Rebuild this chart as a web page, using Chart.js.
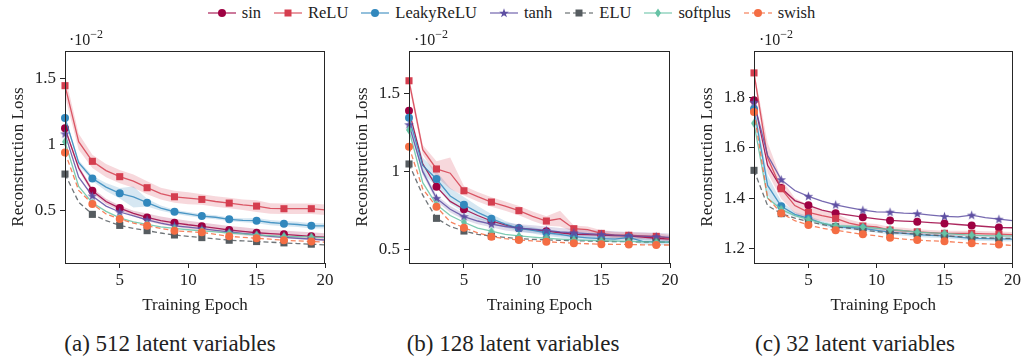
<!DOCTYPE html>
<html><head><meta charset="utf-8">
<script src="https://cdn.jsdelivr.net/npm/chart.js@4"></script>
<style>
body{margin:0;width:1023px;height:357px;background:#fff;position:relative;overflow:hidden;font-family:"Liberation Serif","DejaVu Serif",serif;color:#222}
.cv{position:absolute;top:0}
#legend{position:absolute;top:2px;left:0;width:1023px;height:22px;display:flex;justify-content:center;align-items:center;font-size:16.5px}
.li{display:flex;align-items:center;margin:0 6.5px}
.li span{margin-left:6px}
.mult{position:absolute;top:26px;font-size:16px;line-height:18px}
.mult sup{font-size:12px;position:relative;top:-1px}
.cap{position:absolute;top:331px;font-size:23px;width:340px;text-align:center;line-height:26px}
</style></head>
<body>
<div id="legend"></div>
<canvas id="c1" class="cv" width="340" height="320" style="left:0px"></canvas>
<canvas id="c2" class="cv" width="340" height="320" style="left:344px"></canvas>
<canvas id="c3" class="cv" width="334" height="320" style="left:689px"></canvas>
<div class="mult" style="left:69px">·10<sup>−2</sup></div>
<div class="mult" style="left:414px">·10<sup>−2</sup></div>
<div class="mult" style="left:759px">·10<sup>−2</sup></div>
<div class="cap" style="left:0px">(a) 512 latent variables</div>
<div class="cap" style="left:343px">(b) 128 latent variables</div>
<div class="cap" style="left:685px">(c) 32 latent variables</div>
<script>
// ---------- data (values are ×10^-2) ----------
const epochs = [1,2,3,4,5,6,7,8,9,10,11,12,13,14,15,16,17,18,19,20];
const xTicks = [5,10,15,20];
const yTicks512 = [0.5,1,1.5];
const yTicks128 = [0.5,1,1.5];
const yTicks32 = [1.2,1.4,1.6,1.8];
const seriesNames = ['sin','ReLU','LeakyReLU','tanh','ELU','softplus','swish'];
const xTitle = 'Training Epoch';
const yTitle = 'Reconstruction Loss';

// 512 latent variables
const sin512      = [1.122,0.82,0.647,0.565,0.515,0.475,0.444,0.42,0.403,0.388,0.376,0.362,0.348,0.338,0.327,0.32,0.315,0.307,0.300,0.293];
const relu512     = [1.447,1.02,0.871,0.80,0.754,0.72,0.670,0.625,0.601,0.59,0.581,0.565,0.553,0.54,0.530,0.512,0.510,0.51,0.510,0.502];
const leaky512    = [1.201,0.86,0.741,0.675,0.627,0.60,0.556,0.515,0.487,0.47,0.454,0.445,0.429,0.422,0.419,0.405,0.396,0.39,0.380,0.38];
const tanh512     = [1.08,0.75,0.607,0.53,0.485,0.455,0.425,0.40,0.38,0.37,0.358,0.345,0.333,0.322,0.312,0.30,0.292,0.285,0.278,0.272];
const elu512      = [0.774,0.56,0.467,0.42,0.383,0.36,0.343,0.325,0.31,0.30,0.29,0.28,0.27,0.265,0.26,0.255,0.25,0.245,0.24,0.235];
const softplus512 = [1.02,0.68,0.555,0.49,0.44,0.41,0.39,0.372,0.36,0.35,0.342,0.333,0.325,0.318,0.31,0.305,0.30,0.297,0.295,0.29];
const swish512    = [0.939,0.65,0.546,0.47,0.431,0.40,0.38,0.36,0.342,0.335,0.33,0.315,0.30,0.292,0.285,0.278,0.27,0.265,0.26,0.255];
const reluBand512  = [0.08,0.06,0.05,0.05,0.05,0.05,0.05,0.045,0.045,0.045,0.04,0.04,0.04,0.04,0.045,0.04,0.04,0.04,0.04,0.04];
const leakyBand512 = [0.02,0.02,0.02,0.03,0.04,0.08,0.03,0.02,0.015,0.015,0.015,0.015,0.015,0.015,0.02,0.02,0.02,0.02,0.02,0.02];
const sinBand512   = [0.02,0.02,0.02,0.02,0.02,0.02,0.03,0.03,0.03,0.03,0.03,0.03,0.03,0.03,0.03,0.03,0.03,0.03,0.03,0.03];

// 128 latent variables
const sin128      = [1.389,1.05,0.904,0.81,0.760,0.72,0.685,0.66,0.638,0.63,0.62,0.61,0.60,0.598,0.595,0.592,0.59,0.583,0.575,0.57];
const relu128     = [1.580,1.14,1.017,0.99,0.878,0.84,0.806,0.78,0.751,0.715,0.685,0.70,0.636,0.63,0.606,0.595,0.594,0.59,0.587,0.575];
const leaky128    = [1.344,1.04,0.953,0.845,0.789,0.74,0.70,0.665,0.638,0.625,0.61,0.60,0.585,0.578,0.572,0.57,0.58,0.555,0.552,0.55];
const tanh128     = [1.30,1.00,0.83,0.76,0.713,0.685,0.665,0.65,0.64,0.633,0.625,0.615,0.61,0.605,0.60,0.595,0.59,0.588,0.585,0.58];
const elu128      = [1.049,0.85,0.702,0.65,0.621,0.60,0.589,0.58,0.572,0.568,0.565,0.562,0.56,0.557,0.555,0.554,0.553,0.551,0.55,0.55];
const softplus128 = [1.266,0.93,0.79,0.72,0.677,0.64,0.62,0.60,0.59,0.582,0.575,0.57,0.565,0.562,0.56,0.557,0.555,0.552,0.55,0.55];
const swish128    = [1.159,0.89,0.776,0.68,0.642,0.61,0.585,0.572,0.564,0.558,0.553,0.548,0.543,0.54,0.537,0.536,0.535,0.533,0.532,0.532];
const reluBand128  = [0.03,0.03,0.05,0.10,0.03,0.03,0.03,0.03,0.03,0.03,0.03,0.05,0.02,0.02,0.02,0.02,0.02,0.02,0.02,0.02];
const leakyBand128 = [0.03,0.05,0.05,0.05,0.05,0.04,0.03,0.02,0.02,0.02,0.02,0.02,0.02,0.02,0.02,0.02,0.02,0.02,0.02,0.02];
const tanhBand128  = [0.02,0.02,0.02,0.02,0.02,0.02,0.02,0.025,0.025,0.025,0.025,0.025,0.025,0.025,0.025,0.025,0.025,0.025,0.025,0.025];

// 32 latent variables
const sin32      = [1.788,1.53,1.44,1.39,1.371,1.352,1.34,1.332,1.324,1.317,1.311,1.308,1.306,1.302,1.299,1.295,1.291,1.287,1.283,1.282];
const relu32     = [1.897,1.56,1.437,1.37,1.343,1.33,1.319,1.30,1.289,1.285,1.273,1.27,1.266,1.263,1.26,1.26,1.26,1.258,1.257,1.255];
const leaky32    = [1.754,1.45,1.367,1.335,1.319,1.30,1.286,1.283,1.28,1.272,1.265,1.26,1.255,1.252,1.25,1.245,1.24,1.239,1.238,1.237];
const tanh32     = [1.78,1.57,1.473,1.43,1.407,1.388,1.373,1.362,1.352,1.345,1.344,1.34,1.338,1.332,1.327,1.325,1.332,1.322,1.316,1.31];
const elu32      = [1.51,1.37,1.338,1.32,1.306,1.295,1.286,1.28,1.273,1.267,1.262,1.26,1.257,1.253,1.25,1.247,1.244,1.242,1.24,1.24];
const softplus32 = [1.697,1.40,1.355,1.33,1.315,1.30,1.29,1.288,1.285,1.28,1.275,1.27,1.265,1.262,1.26,1.256,1.253,1.251,1.25,1.25];
const swish32    = [1.742,1.40,1.34,1.31,1.293,1.28,1.272,1.264,1.256,1.25,1.242,1.237,1.233,1.23,1.228,1.224,1.22,1.218,1.215,1.212];
const reluBand32  = [0.01,0.06,0.04,0.03,0.03,0.02,0.02,0.015,0.012,0.012,0.012,0.012,0.01,0.01,0.01,0.01,0.01,0.01,0.01,0.01];
const leakyBand32 = [0.03,0.04,0.02,0.01,0.01,0.01,0.01,0.01,0.01,0.01,0.01,0.01,0.01,0.01,0.01,0.01,0.01,0.01,0.01,0.01];

// ---------- styles ----------
const STY = {
  sin:       {color:'#9e0142', rgb:'158,1,66',   dash:[],    marker:'circle'},
  ReLU:      {color:'#d53e4f', rgb:'213,62,79',  dash:[],    marker:'rect'},
  LeakyReLU: {color:'#3288bd', rgb:'50,136,189', dash:[],    marker:'circle'},
  tanh:      {color:'#5e4fa2', rgb:'94,79,162',  dash:[],    marker:'star'},
  ELU:       {color:'#565c60', rgb:'86,92,96',   dash:[5,3], marker:'rect'},
  softplus:  {color:'#66c2a5', rgb:'102,194,165',dash:[],    marker:'diamond'},
  swish:     {color:'#f46d43', rgb:'244,109,67', dash:[5,3], marker:'circle'}
};
const FONT = '"Liberation Serif", "DejaVu Serif", serif';
const AXC = '#262626';

function starImg(color){
  const c=document.createElement('canvas'); c.width=11; c.height=11;
  const g=c.getContext('2d'); g.fillStyle=color; g.beginPath();
  for(let k=0;k<10;k++){const r=k%2?2.0:5.0; const a=-Math.PI/2+k*Math.PI/5; g.lineTo(5.5+r*Math.cos(a),5.8+r*Math.sin(a));}
  g.closePath(); g.fill(); return c;
}
function diamondImg(color){
  const c=document.createElement('canvas'); c.width=8; c.height=10;
  const g=c.getContext('2d'); g.fillStyle=color; g.beginPath();
  g.moveTo(4,0.5); g.lineTo(7,5); g.lineTo(4,9.5); g.lineTo(1,5); g.closePath(); g.fill(); return c;
}
function pointStyleFor(name){
  const s=STY[name];
  if(s.marker==='star') return starImg(s.color);
  if(s.marker==='diamond') return diamondImg(s.color);
  return s.marker;
}
function radiusFor(name){ return STY[name].marker==='rect' ? 5 : 4; }

// ---------- legend (HTML) ----------
(function(){
  const lg=document.getElementById('legend');
  seriesNames.forEach(n=>{
    const s=STY[n];
    let mk='';
    if(s.marker==='circle') mk=`<circle cx="14" cy="7" r="4" fill="${s.color}"/>`;
    else if(s.marker==='rect') mk=`<rect x="10.5" y="3.5" width="7" height="7" fill="${s.color}"/>`;
    else if(s.marker==='star'){
      let p=[];for(let k=0;k<10;k++){const r=k%2?2.0:5.0;const a=-Math.PI/2+k*Math.PI/5;p.push((14+r*Math.cos(a)).toFixed(2)+','+(7.3+r*Math.sin(a)).toFixed(2));}
      mk=`<polygon points="${p.join(' ')}" fill="${s.color}"/>`;
    } else mk=`<polygon points="14,2.5 17,7 14,11.5 11,7" fill="${s.color}"/>`;
    const dash=s.dash.length?`stroke-dasharray="${s.dash.join(',')}"`:'';
    const d=document.createElement('div'); d.className='li';
    d.innerHTML=`<svg width="28" height="14"><line x1="0" y1="7" x2="28" y2="7" stroke="rgba(${s.rgb},0.7)" stroke-width="1.5" ${dash}/>${mk}</svg><span>${n}</span>`;
    lg.appendChild(d);
  });
})();

// ---------- charts ----------
const boxPlugin = {
  id:'box',
  afterDraw(chart){
    const a=chart.chartArea, g=chart.ctx;
    g.save(); g.strokeStyle=AXC; g.lineWidth=1;
    g.strokeRect(Math.round(a.left)+0.5, Math.round(a.top)+0.5, Math.round(a.right-a.left)-1, Math.round(a.bottom-a.top));
    g.restore();
  }
};

function makePanel(id, padRight, vals, bands, yMin, yMax, yTicks){
  const datasets=[];
  Object.keys(bands).forEach(n=>{
    const v=vals[n], sp=bands[n], rgb=STY[n].rgb;
    datasets.push({data:epochs.map((x,i)=>({x, y:v[i]+sp[i]})), borderWidth:0, pointRadius:0, fill:false, order:50, tension:0});
    datasets.push({data:epochs.map((x,i)=>({x, y:v[i]-sp[i]})), borderWidth:0, pointRadius:0, fill:'-1', backgroundColor:`rgba(${rgb},0.2)`, order:50, tension:0});
  });
  seriesNames.forEach((n,i)=>{
    const s=STY[n], r=radiusFor(n);
    datasets.push({
      label:n,
      data:epochs.map((x,k)=>({x, y:vals[n][k]})),
      borderColor:`rgba(${s.rgb},0.85)`, borderWidth:1.3, borderDash:s.dash,
      backgroundColor:s.color, pointBackgroundColor:s.color, pointBorderWidth:0,
      pointStyle:pointStyleFor(n),
      pointRadius:(c)=> (c.dataIndex%2===0 ? r : 0),
      pointHoverRadius:0,
      fill:false, tension:0, clip:false, order:7-i
    });
  });
  new Chart(document.getElementById(id), {
    type:'line',
    data:{datasets},
    plugins:[boxPlugin],
    options:{
      responsive:false, animation:false, devicePixelRatio:1,
      layout:{padding:{top:51,right:padRight,left:0,bottom:0}},
      plugins:{legend:{display:false}, tooltip:{enabled:false}},
      scales:{
        x:{type:'linear', min:1, max:20,
          afterBuildTicks:(s)=>{s.ticks=xTicks.map(v=>({value:v}));},
          afterFit:(s)=>{s.height=57;},
          grid:{drawOnChartArea:false, tickLength:5, color:AXC, tickWidth:1},
          border:{display:false},
          ticks:{font:{family:FONT,size:17}, color:'#222', padding:2, maxRotation:0, autoSkip:false, callback:(v)=>String(v)},
          title:{display:true, text:xTitle, font:{family:FONT,size:17}, color:'#222', padding:{top:0,bottom:4}}
        },
        y:{type:'linear', min:yMin, max:yMax,
          afterBuildTicks:(s)=>{s.ticks=yTicks.map(v=>({value:v}));},
          afterFit:(s)=>{s.width=65;},
          grid:{drawOnChartArea:false, tickLength:5, color:AXC, tickWidth:1},
          border:{display:false},
          ticks:{font:{family:FONT,size:17}, color:'#222', padding:4, autoSkip:false, callback:(v)=>String(v)},
          title:{display:true, text:yTitle, font:{family:FONT,size:17}, color:'#222', padding:{top:8,bottom:0}}
        }
      }
    }
  });
}

makePanel('c1', 15,
  {sin:sin512, ReLU:relu512, LeakyReLU:leaky512, tanh:tanh512, ELU:elu512, softplus:softplus512, swish:swish512},
  {ReLU:reluBand512, LeakyReLU:leakyBand512, sin:sinBand512},
  0.0967, 1.711, yTicks512);
makePanel('c2', 14,
  {sin:sin128, ReLU:relu128, LeakyReLU:leaky128, tanh:tanh128, ELU:elu128, softplus:softplus128, swish:swish128},
  {ReLU:reluBand128, LeakyReLU:leakyBand128, tanh:tanhBand128},
  0.417, 1.77, yTicks128);
makePanel('c3', 8,
  {sin:sin32, ReLU:relu32, LeakyReLU:leaky32, tanh:tanh32, ELU:elu32, softplus:softplus32, swish:swish32},
  {ReLU:reluBand32, LeakyReLU:leakyBand32},
  1.142, 1.984, yTicks32);
</script>
</body></html>
